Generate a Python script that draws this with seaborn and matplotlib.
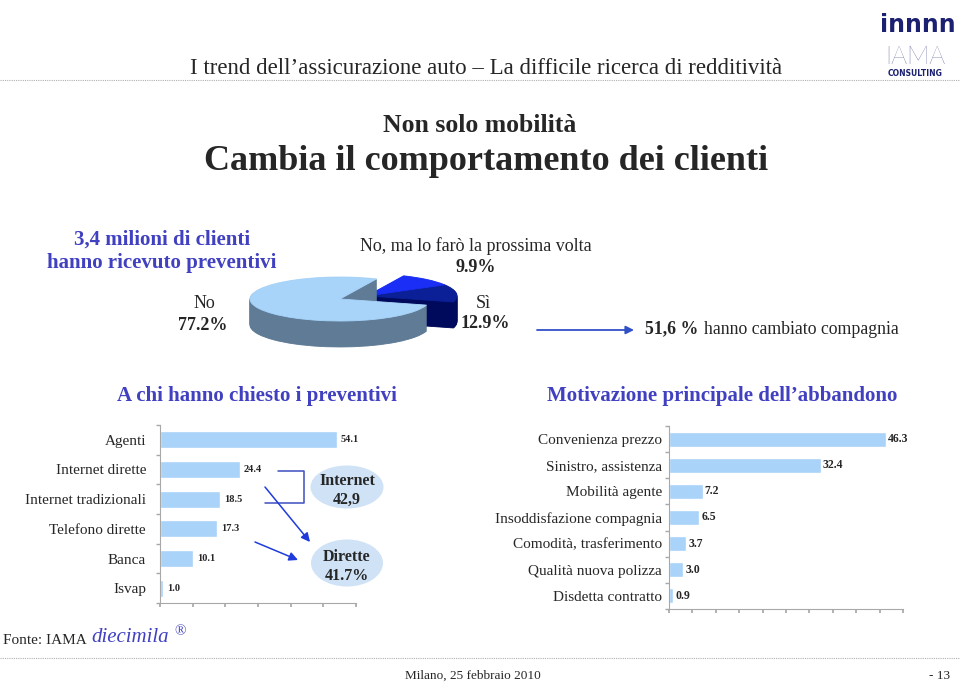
import matplotlib
matplotlib.use("Agg")
import matplotlib.pyplot as plt
from matplotlib.patches import Ellipse
import seaborn as sns
import numpy as np

# data
pie_labels = ["No", "Sì", "No, ma lo farò la prossima volta"]
pie_vals = [77.2, 12.9, 9.9]

left_cats = ["Agenti", "Internet dirette", "Internet tradizionali",
             "Telefono dirette", "Banca", "Isvap"]
left_vals = [54.1, 24.4, 18.5, 17.3, 10.1, 1.0]

right_cats = ["Convenienza prezzo", "Sinistro, assistenza", "Mobilità agente",
              "Insoddisfazione compagnia", "Comodità, trasferimento",
              "Qualità nuova polizza", "Disdetta contratto"]
right_vals = [46.3, 32.4, 7.2, 6.5, 3.7, 3.0, 0.9]

BAR = "#A9D3F8"
BLUE_TXT = "#4040C0"
NAVY = "#1B2070"
GRID = "#A8A8A8"

sns.set_theme(style="white")
plt.rcParams["font.family"] = ["Liberation Serif", "DejaVu Serif"]

W, H = 960, 684
fig = plt.figure(figsize=(9.6, 6.84), dpi=100)


def px_axes(x0, y0, x1, y1):
    return fig.add_axes([x0 / W, 1 - y1 / H, (x1 - x0) / W, (y1 - y0) / H])


def style_bar_axes(ax, xmax, step, labelpad):
    ax.set_xlim(0, xmax)
    ax.set_xticks(np.arange(0, xmax + 0.1, step))
    ax.set_xticklabels([])
    ax.set_xlabel("")
    ax.set_ylabel("")
    n = len(ax.get_yticks())
    ax.set_ylim(n - 0.5, -0.5)
    ax.set_yticks(np.arange(-0.5, n, 1), minor=True)
    for s in ["top", "right"]:
        ax.spines[s].set_visible(False)
    for s in ["left", "bottom"]:
        ax.spines[s].set_color(GRID)
        ax.spines[s].set_linewidth(0.8)
    ax.tick_params(axis="x", length=3, color=GRID, bottom=True, direction="out")
    ax.tick_params(axis="y", which="major", length=0, pad=labelpad, labelsize=11)
    ax.tick_params(axis="y", which="minor", length=3, color=GRID, left=True)
    ax.set_facecolor("none")


# left bar chart
axl = px_axes(160, 425, 356, 603)
sns.barplot(x=left_vals, y=left_cats, orient="h", color=BAR, saturation=1,
            width=0.58, ax=axl)
style_bar_axes(axl, 60, 10, 10)
axl.bar_label(axl.containers[0], fmt="%.1f", padding=3, fontsize=7.5,
              fontweight="bold")

# right bar chart
axr = px_axes(669, 426, 903, 609)
sns.barplot(x=right_vals, y=right_cats, orient="h", color=BAR, saturation=1,
            width=0.57, ax=axr)
style_bar_axes(axr, 50, 5, 5)
axr.bar_label(axr.containers[0], fmt="%.1f", padding=1.5, fontsize=8.5,
              fontweight="bold")

# 3D-looking pie
axp = px_axes(214, 270.4, 493, 351.8)
depth = 1.18
shift = (0.3, 0.14)
top_cols = ["#A8D4FA", "#0B1F96", "#1A2EF5"]
side_cols = ["#5F7B96", "#000A5C", "#0A1AA8"]


def pie_layer(center, cols, show, z):
    wedges, _ = axp.pie(pie_vals, colors=cols, startangle=66, center=center,
                        radius=1, wedgeprops=dict(linewidth=0.6))
    for i, w in enumerate(wedges):
        w.set_edgecolor(cols[i])
        w.set_visible(i in show)
        w.set_zorder(z)


for k, d in enumerate(np.linspace(-depth, 0, 36)[:-1]):
    pie_layer((shift[0], shift[1] + d), side_cols, [1, 2], 1 + k * 0.001)
pie_layer(shift, top_cols, [1, 2], 2)
for k, d in enumerate(np.linspace(-depth, 0, 36)[:-1]):
    pie_layer((0, d), side_cols, [0], 3 + k * 0.001)
pie_layer((0, 0), top_cols, [0], 4)
axp.set_aspect("auto")
axp.set_xlim(-1.4, 1.7)
axp.set_ylim(-2.4, 1.3)
axp.axis("off")

# overlay for slide text and annotations
ov = fig.add_axes([0, 0, 1, 1], zorder=10)
ov.set_xlim(0, W)
ov.set_ylim(H, 0)
ov.axis("off")
ov.patch.set_alpha(0)

# header
ov.text(190, 68, "I trend dell’assicurazione auto – La difficile ricerca di redditività",
        fontsize=16.5, va="center", ha="left")
ov.plot([0, W], [80, 80], color="#B0B0B0", lw=0.8, ls=(0, (1, 1)))
ov.text(918, 25, "innnn", fontsize=17, fontweight="bold", color=NAVY,
        family="DejaVu Sans", ha="center", va="center")
ov.text(915, 57, "IAMA", fontsize=18, color=NAVY, family="Lato",
        fontweight="light", ha="center", va="center")
ov.text(915, 73, "CONSULTING", fontsize=5.5, color=NAVY, family="DejaVu Sans",
        fontweight="bold", ha="center", va="center")

ov.text(480, 126, "Non solo mobilità", fontsize=18.5, fontweight="bold",
        ha="center", va="center")
ov.text(486, 162, "Cambia il comportamento dei clienti", fontsize=26,
        fontweight="bold", ha="center", va="center")

ov.text(162, 240, "3,4 milioni di clienti", fontsize=15, fontweight="bold",
        color=BLUE_TXT, ha="center", va="center")
ov.text(162, 263, "hanno ricevuto preventivi", fontsize=15, fontweight="bold",
        color=BLUE_TXT, ha="center", va="center")

# pie labels
ov.text(204, 304, pie_labels[0], fontsize=13, ha="center", va="center")
ov.text(203, 325, f"{pie_vals[0]:.1f}%", fontsize=13, fontweight="bold",
        ha="center", va="center")
ov.text(476, 246, pie_labels[2], fontsize=13, ha="center", va="center")
ov.text(476, 268, f"{pie_vals[2]:.1f}%", fontsize=13, fontweight="bold",
        ha="center", va="center")
ov.text(483, 304, pie_labels[1], fontsize=13, ha="center", va="center")
ov.text(485, 324, f"{pie_vals[1]:.1f}%", fontsize=13, fontweight="bold",
        ha="center", va="center")

ov.annotate("", xy=(634, 330), xytext=(537, 330),
            arrowprops=dict(arrowstyle="-|>", color="#3050C8", lw=1.3,
                            mutation_scale=12, shrinkA=0, shrinkB=0))
ov.text(645, 329, "51,6 %", fontsize=12.8, fontweight="bold", ha="left", va="center")
ov.text(704, 329, "hanno cambiato compagnia", fontsize=12.8, ha="left", va="center")

# section titles
ov.text(257, 396, "A chi hanno chiesto i preventivi", fontsize=15,
        fontweight="bold", color=BLUE_TXT, ha="center", va="center")
ov.text(722, 396, "Motivazione principale dell’abbandono", fontsize=15,
        fontweight="bold", color=BLUE_TXT, ha="center", va="center")

# left chart annotations
ov.plot([278, 304, 304, 265], [471, 471, 503, 503], color="#3C4FC0", lw=1.1)
ov.add_patch(Ellipse((347, 487), 73, 43, color="#CFE2F6", lw=0))
ov.add_patch(Ellipse((347, 563), 72, 47, color="#CFE2F6", lw=0))
ov.text(347, 481, "Internet", fontsize=11.5, fontweight="bold", ha="center", va="center")
ov.text(347, 500, "42,9", fontsize=11.5, fontweight="bold", ha="center", va="center")
ov.text(347, 557, "Dirette", fontsize=11.5, fontweight="bold", ha="center", va="center")
ov.text(347, 576, "41.7%", fontsize=11.5, fontweight="bold", ha="center", va="center")
for (x0, y0, x1, y1) in [(265, 487, 310, 542), (255, 542, 298, 560)]:
    ov.annotate("", xy=(x1, y1), xytext=(x0, y0),
                arrowprops=dict(arrowstyle="-|>", color="#1F3BDB", lw=1.1,
                                mutation_scale=13, shrinkA=0, shrinkB=0))

# footer
ov.text(3, 640, "Fonte: IAMA", fontsize=11, ha="left", va="center")
ov.text(91, 638, "diecimila", fontsize=15, style="italic", color=BLUE_TXT,
        ha="left", va="center")
ov.text(174, 632, "®", fontsize=11, color=BLUE_TXT, ha="left", va="center")
ov.plot([0, W], [658, 658], color="#B0B0B0", lw=0.8, ls=(0, (1, 1)))
ov.text(473, 676, "Milano, 25 febbraio 2010", fontsize=9.5, ha="center", va="center")
ov.text(950, 676, "- 13", fontsize=9.5, ha="right", va="center")

fig.savefig("out.png", dpi=100)
